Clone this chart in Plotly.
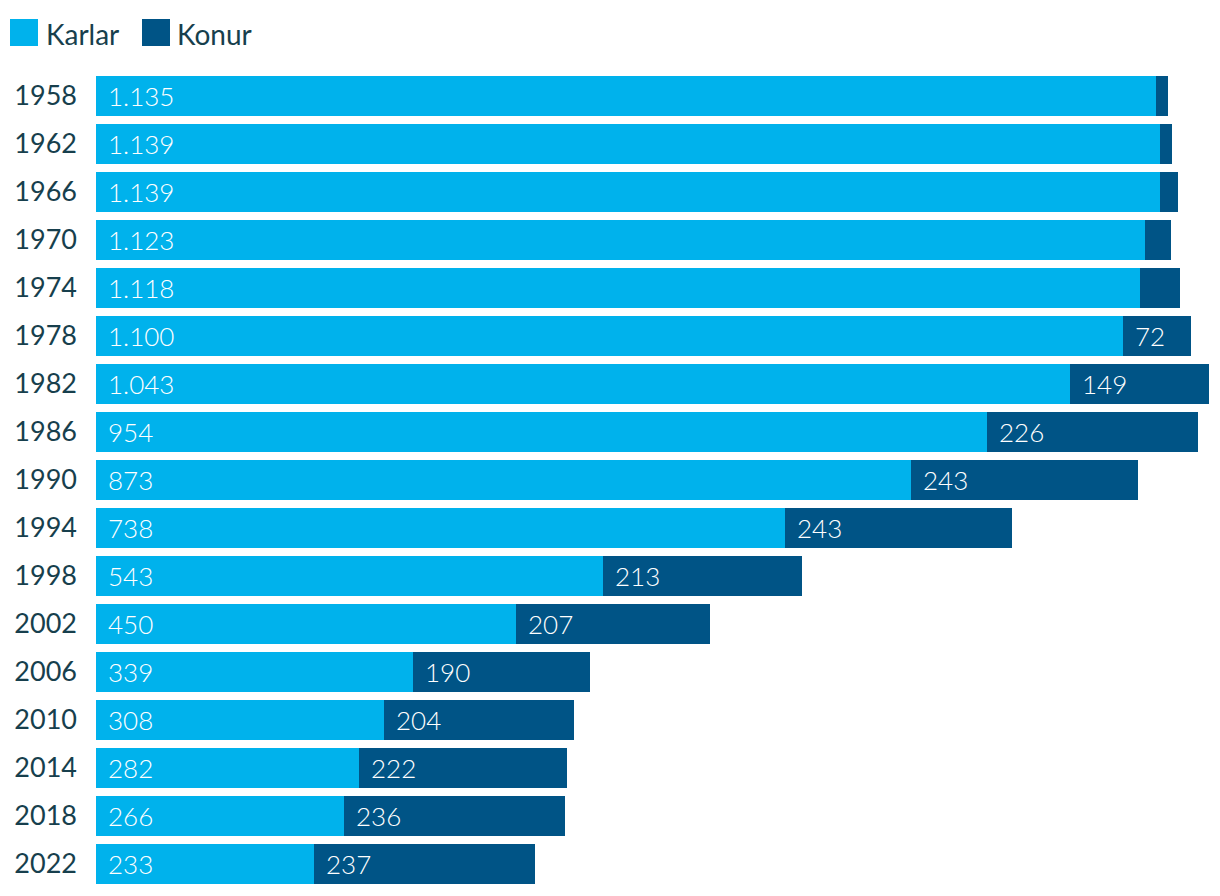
import plotly.graph_objects as go

years = ["1958", "1962", "1966", "1970", "1974", "1978", "1982", "1986", "1990",
         "1994", "1998", "2002", "2006", "2010", "2014", "2018", "2022"]
karlar = [1135, 1139, 1139, 1123, 1118, 1100, 1043, 954, 873, 738, 543, 450, 339, 308, 282, 266, 233]
konur = [13, 13, 19, 28, 43, 72, 149, 226, 243, 243, 213, 207, 190, 204, 222, 236, 237]
# labels shown for Konur (small values not labelled)
konur_labels = ["", "", "", "", "", "72", "149", "226", "243", "243", "213", "207", "190", "204", "222", "236", "237"]
series_names = ["Karlar", "Konur"]

def fmt(v):
    return f"{v:,}".replace(",", ".")

C_LIGHT = "#00B2EC"
C_DARK = "#005486"
C_TEXT = "#173F4D"

fig = go.Figure()
fig.add_trace(go.Bar(y=years, x=karlar, orientation="h", name=series_names[0],
                     marker=dict(color=C_LIGHT, line=dict(width=0)), showlegend=False,
                     hoverinfo="skip"))
fig.add_trace(go.Bar(y=years, x=konur, orientation="h", name=series_names[1],
                     marker=dict(color=C_DARK, line=dict(width=0)), showlegend=False,
                     hoverinfo="skip"))

ann = []
for i, (k, lbl_k) in enumerate(zip(karlar, konur_labels)):
    # on a category axis annotations use the category index
    ann.append(dict(x=0, y=i, xref="x", yref="y", text=fmt(k), showarrow=False,
                    xanchor="left", yanchor="middle", xshift=10,
                    font=dict(family="Lato", size=26, color="white", weight=300)))
    if lbl_k:
        ann.append(dict(x=k, y=i, xref="x", yref="y", text=lbl_k, showarrow=False,
                        xanchor="left", yanchor="middle", xshift=10,
                        font=dict(family="Lato", size=26, color="white", weight=300)))

# page has an 8px body margin; figure sized to fit the window
OFF = 8
W = 1220 - OFF
H = 896 - OFF
ml, mr, mt, mb = 96 - OFF, 6, 72 - OFF, 8
pw = W - ml - mr
ph = H - mt - mb

def px2paper_x(px):
    return (px - OFF - ml) / pw

def px2paper_y(py):
    return (H - mb - (py - OFF)) / ph

legend_items = [(series_names[0], C_LIGHT, 10, 45), (series_names[1], C_DARK, 142, 176)]
shapes = []
for name, col, sx, tx in legend_items:
    shapes.append(dict(type="rect", xref="paper", yref="paper",
                       x0=px2paper_x(sx), x1=px2paper_x(sx + 28),
                       y0=px2paper_y(46), y1=px2paper_y(19),
                       fillcolor=col, line=dict(width=0)))
    ann.append(dict(x=px2paper_x(tx - 1), y=px2paper_y(34), xref="paper", yref="paper",
                    text=name, showarrow=False, xanchor="left", yanchor="middle",
                    font=dict(family="Lato", size=28, color=C_TEXT)))

fig.update_layout(
    barmode="stack",
    bargap=8/48,
    width=W, height=H,
    margin=dict(l=ml, r=mr, t=mt, b=mb),
    plot_bgcolor="white", paper_bgcolor="white",
    annotations=ann, shapes=shapes,
    xaxis=dict(range=[0, 1197], visible=False, fixedrange=True),
    yaxis=dict(type="category", categoryorder="array", categoryarray=years,
               range=[len(years) - 0.5, -0.5],
               showgrid=False, zeroline=False, showline=False, ticks="",
               ticklabelstandoff=18,
               tickfont=dict(family="Lato", size=27, color=C_TEXT)),
)

fig.write_html("out.html")
